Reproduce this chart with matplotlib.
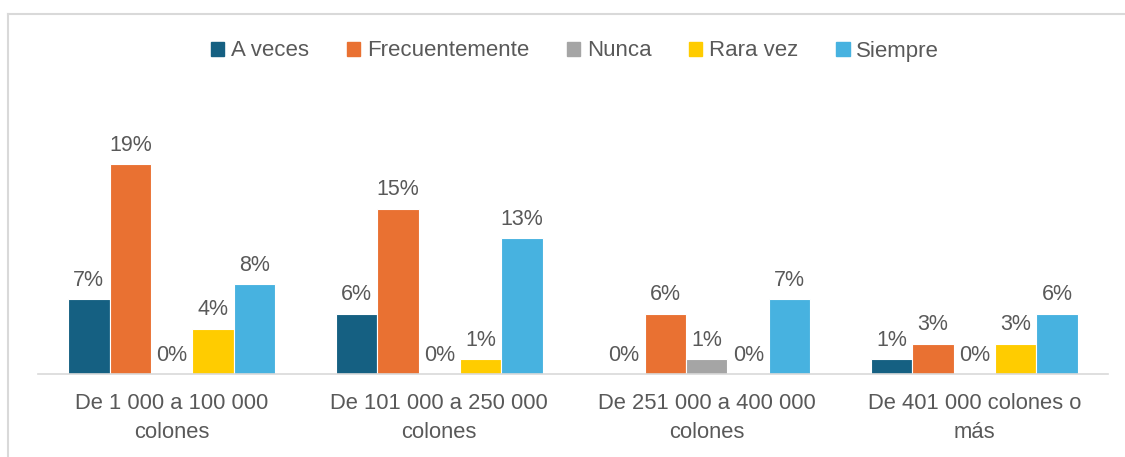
import numpy as np
import matplotlib.pyplot as plt
from matplotlib.lines import Line2D
from matplotlib.patches import Patch

plt.rcParams["font.family"] = ["Liberation Sans", "DejaVu Sans"]

categories = ["De 1 000 a 100 000\ncolones", "De 101 000 a 250 000\ncolones",
              "De 251 000 a 400 000\ncolones", "De 401 000 colones o\nmás"]
series = ["A veces", "Frecuentemente", "Nunca", "Rara vez", "Siempre"]
a_veces = [6.9, 5.6, 0.0, 1.4]
frecuentemente = [19.4, 15.3, 5.6, 2.8]
nunca = [0.0, 0.0, 1.4, 0.0]
rara_vez = [4.2, 1.4, 0.0, 2.8]
siempre = [8.3, 12.6, 6.9, 5.6]

colors = ["#156082", "#E97132", "#A5A5A5", "#FFCC00", "#47B2E0"]
txt = "#595959"

W, H = 1125, 457
fig = plt.figure(figsize=(W / 100, H / 100), dpi=100)
ax = fig.add_axes([38 / W, (H - 374) / H, (1108 - 38) / W, 300 / H])

data = [a_veces, frecuentemente, nunca, rara_vez, siempre]
x = np.arange(len(categories))
bw = 0.155
for k, (name, vals) in enumerate(zip(series, data)):
    bars = ax.bar(x + (k - 2) * bw, vals, bw, color=colors[k], edgecolor="white",
                  linewidth=0.8, label=name)
    for b, v in zip(bars, vals):
        ax.annotate(f"{round(v):d}%", (b.get_x() + b.get_width() / 2, v),
                    xytext=(0, 6), textcoords="offset points", ha="center", va="bottom",
                    fontsize=15.5, color=txt)

ax.set_xlim(-0.5, 3.5)
ax.set_ylim(0, 27.78)
ax.set_yticks([])
ax.set_xticks(x)
ax.set_xticklabels(categories, fontsize=15.8, color=txt, linespacing=1.45)
ax.tick_params(axis="x", length=0, pad=14)
for s in ["top", "right", "left"]:
    ax.spines[s].set_visible(False)
ax.spines["bottom"].set_color("#D9D9D9")
ax.spines["bottom"].set_linewidth(1.2)

handles = [Patch(color=c) for c in colors]
leg = fig.legend(handles, series, loc="center", bbox_to_anchor=(575 / W, 1 - 51 / H),
                 ncol=5, frameon=False, fontsize=16, handlelength=0.6, handleheight=0.6,
                 handletextpad=0.3, columnspacing=1.7)
for t in leg.get_texts():
    t.set_color(txt)

# chart area border (left and top edges visible)
fig.add_artist(Line2D([8 / W, 8 / W], [0, 1 - 14 / H], color="#D9D9D9", lw=1.5))
fig.add_artist(Line2D([8 / W, 1], [1 - 14 / H, 1 - 14 / H], color="#D9D9D9", lw=1.5))

fig.savefig("out.png", dpi=100)
